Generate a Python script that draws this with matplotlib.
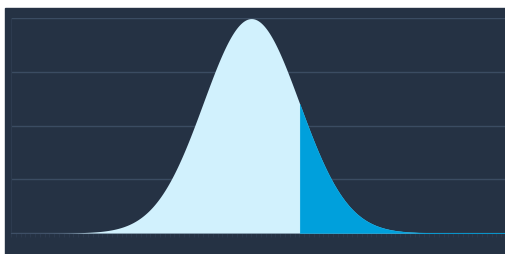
import matplotlib.pyplot as plt
import numpy as np
from matplotlib.patches import Rectangle

# standard normal curve, right tail shaded from one sigma
mean = 0.0
sd = 1.0
cut = 1.0
x_range = [-5.0, 5.3]
y_ticks = [0.0, 0.1, 0.2, 0.3, 0.4]

bg = '#253244'
light = '#d1f1fd'
tail = '#00a0dc'
grid = '#3b4c62'

W, H = 506, 255
fig = plt.figure(figsize=(W / 100, H / 100), dpi=100, facecolor='white')

# dark chart background (white strip on left and top)
fig.patches.append(Rectangle((5 / W, 0), 1 - 5 / W, 1 - 9 / H,
                             transform=fig.transFigure, color=bg, zorder=-10))

ax = fig.add_axes([11 / W, (H - 234) / H, (W - 11) / W, (234 - 19) / H])
ax.set_facecolor(bg)
ax.set_zorder(1)

x = np.linspace(x_range[0], x_range[1], 800)
y = np.exp(-0.5 * ((x - mean) / sd) ** 2) / (sd * np.sqrt(2 * np.pi))

# whole curve light, tail drawn on top (no seam)
ax.fill_between(x, 0, y, color=light, lw=0, zorder=3)
ax.fill_between(x, 0, y, where=x >= cut, color=tail, lw=0.3, ec=tail, zorder=4)

ax.set_xlim(x_range)
ax.set_ylim(0, 0.4)
ax.set_yticks(y_ticks)
ax.yaxis.grid(True, color=grid, lw=1)
ax.set_axisbelow(True)
ax.set_yticklabels([])
ax.tick_params(axis='y', length=0)

ax.set_xticks(np.arange(-5.0, 5.31, 0.1))
ax.set_xticklabels([])
ax.tick_params(axis='x', length=3, width=0.5, color='#2e3d51')

for s in ['top', 'right']:
    ax.spines[s].set_visible(False)
ax.spines['left'].set_color('#2d3b4f')
ax.spines['bottom'].set_color('#3e4f66')

plt.savefig('out.png', dpi=100, facecolor='white')
